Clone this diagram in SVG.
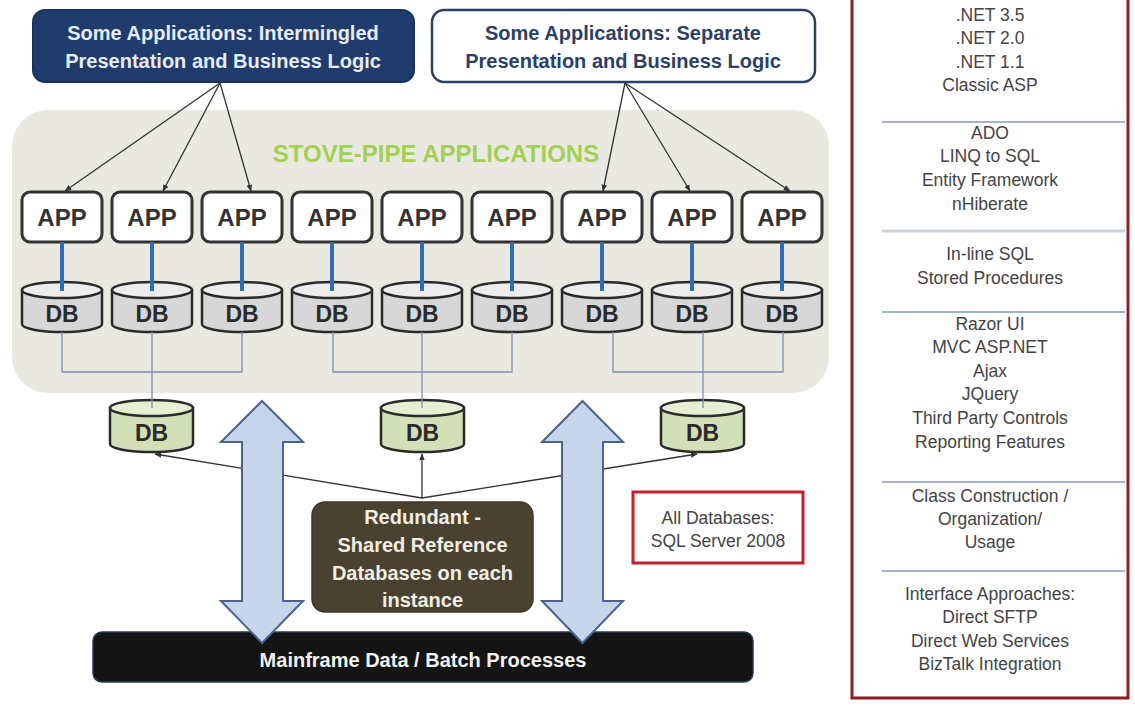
<svg xmlns="http://www.w3.org/2000/svg" xmlns:xlink="http://www.w3.org/1999/xlink" width="1135" height="708" viewBox="0 0 1135 708">
<style>
.t{font-family:"Liberation Sans",Arial,sans-serif;text-anchor:middle}
.b{font-weight:bold}
.hdrL{fill:#1f3c6d;stroke:#1a3160;stroke-width:2}
.hdrR{fill:#ffffff;stroke:#2b3f68;stroke-width:2.5}
.app{fill:#ffffff;stroke:#333333;stroke-width:3}
.appT{font-size:24px;fill:#333333}
.dbB{fill:#d7d7d7;stroke:#2a2a2a;stroke-width:2.5}
.dbTp{fill:#ececec;stroke:#2a2a2a;stroke-width:2.5}
.gdbB{fill:#d3dfb6;stroke:#2a2a2a;stroke-width:2.5}
.gdbTp{fill:#e6eed4;stroke:#2a2a2a;stroke-width:2.5}
.dbT{font-size:23px;fill:#2a2a2a}
.blue{stroke:#2e6db3;stroke-width:4;fill:none}
.thin{stroke:#7f90ad;stroke-width:1.3;fill:none}
.arr{stroke:#333333;stroke-width:1.3;fill:none;marker-end:url(#ah)}
.big{fill:#c7d5ea;stroke:#4b628e;stroke-width:2}
.panel{font-size:17.5px;fill:#444444}
.sep{stroke:#8399bf;stroke-width:1.5}
</style>
<defs>
<marker id="ah" viewBox="0 0 10 10" refX="9" refY="5" markerWidth="7" markerHeight="7" orient="auto" markerUnits="userSpaceOnUse">
<path d="M0,1 L10,5 L0,9 Z" fill="#333333"/>
</marker>
<g id="cyl">
<path class="dbB" d="M0,8 L0,42 A40,8 0 0 0 80,42 L80,8 Z"/>
<ellipse class="dbTp" cx="40" cy="8" rx="40" ry="8"/>
</g>
<g id="gcyl">
<path class="gdbB" d="M0,8 L0,44 A41.5,8 0 0 0 83,44 L83,8 Z"/>
<ellipse class="gdbTp" cx="41.5" cy="8" rx="41.5" ry="8"/>
</g>
</defs>

<rect width="1135" height="708" fill="#ffffff"/>

<!-- background region -->
<g id="stovepipe">
<rect x="12" y="110" width="817" height="283" rx="36" fill="#eae9e1"/>
<text class="t b" x="436" y="162" font-size="24" fill="#a3cf55">STOVE-PIPE APPLICATIONS</text>
</g>

<!-- header nodes -->
<g id="hdr-intermingled">
<rect class="hdrL" x="33" y="10" width="381" height="72" rx="12"/>
<text class="t b" x="223" y="40" font-size="20" fill="#e6ecf6">Some Applications: Intermingled</text>
<text class="t b" x="223" y="68" font-size="20" fill="#e6ecf6">Presentation and Business Logic</text>
</g>
<g id="hdr-separate">
<rect class="hdrR" x="432" y="10" width="383" height="72" rx="12"/>
<text class="t b" x="623" y="40" font-size="20" fill="#2b3f68">Some Applications: Separate</text>
<text class="t b" x="623" y="68" font-size="20" fill="#2b3f68">Presentation and Business Logic</text>
</g>

<!-- APP nodes -->
<g id="app1"><rect class="app" x="22" y="192" width="80" height="50" rx="8"/><text class="t b appT" x="62" y="226">APP</text></g>
<g id="app2"><rect class="app" x="112" y="192" width="80" height="50" rx="8"/><text class="t b appT" x="152" y="226">APP</text></g>
<g id="app3"><rect class="app" x="202" y="192" width="80" height="50" rx="8"/><text class="t b appT" x="242" y="226">APP</text></g>
<g id="app4"><rect class="app" x="292" y="192" width="80" height="50" rx="8"/><text class="t b appT" x="332" y="226">APP</text></g>
<g id="app5"><rect class="app" x="382" y="192" width="80" height="50" rx="8"/><text class="t b appT" x="422" y="226">APP</text></g>
<g id="app6"><rect class="app" x="472" y="192" width="80" height="50" rx="8"/><text class="t b appT" x="512" y="226">APP</text></g>
<g id="app7"><rect class="app" x="562" y="192" width="80" height="50" rx="8"/><text class="t b appT" x="602" y="226">APP</text></g>
<g id="app8"><rect class="app" x="652" y="192" width="80" height="50" rx="8"/><text class="t b appT" x="692" y="226">APP</text></g>
<g id="app9"><rect class="app" x="742" y="192" width="80" height="50" rx="8"/><text class="t b appT" x="782" y="226">APP</text></g>

<!-- DB nodes -->
<g id="db1"><use xlink:href="#cyl" x="22" y="282"/><text class="t b dbT" x="62" y="322">DB</text></g>
<g id="db2"><use xlink:href="#cyl" x="112" y="282"/><text class="t b dbT" x="152" y="322">DB</text></g>
<g id="db3"><use xlink:href="#cyl" x="202" y="282"/><text class="t b dbT" x="242" y="322">DB</text></g>
<g id="db4"><use xlink:href="#cyl" x="292" y="282"/><text class="t b dbT" x="332" y="322">DB</text></g>
<g id="db5"><use xlink:href="#cyl" x="382" y="282"/><text class="t b dbT" x="422" y="322">DB</text></g>
<g id="db6"><use xlink:href="#cyl" x="472" y="282"/><text class="t b dbT" x="512" y="322">DB</text></g>
<g id="db7"><use xlink:href="#cyl" x="562" y="282"/><text class="t b dbT" x="602" y="322">DB</text></g>
<g id="db8"><use xlink:href="#cyl" x="652" y="282"/><text class="t b dbT" x="692" y="322">DB</text></g>
<g id="db9"><use xlink:href="#cyl" x="742" y="282"/><text class="t b dbT" x="782" y="322">DB</text></g>

<!-- shared DB nodes -->
<g id="sdb1"><use xlink:href="#gcyl" x="110" y="400"/><text class="t b dbT" x="151.5" y="441">DB</text></g>
<g id="sdb2"><use xlink:href="#gcyl" x="381" y="400"/><text class="t b dbT" x="422.5" y="441">DB</text></g>
<g id="sdb3"><use xlink:href="#gcyl" x="661" y="400"/><text class="t b dbT" x="702.5" y="441">DB</text></g>

<!-- mainframe -->
<g id="mainframe">
<rect x="93" y="632" width="660" height="50" rx="9" fill="#141414" stroke="#2c3850" stroke-width="1.5"/>
<text class="t b" x="423" y="667" font-size="20" fill="#f2f2f2">Mainframe Data / Batch Processes</text>
</g>

<!-- redundant note -->
<g id="redundant">
<rect x="312" y="502" width="221" height="110" rx="13" fill="#4a4230" stroke="#3d3626" stroke-width="1.5"/>
<text class="t b" x="422.5" y="524" font-size="20" fill="#f1eee3">Redundant -</text>
<text class="t b" x="422.5" y="552" font-size="20" fill="#f1eee3">Shared Reference</text>
<text class="t b" x="422.5" y="580" font-size="20" fill="#f1eee3">Databases on each</text>
<text class="t b" x="422.5" y="607" font-size="20" fill="#f1eee3">instance</text>
</g>

<!-- all databases note -->
<g id="allDatabases">
<rect x="633" y="492" width="170" height="71" fill="#ffffff" stroke="#c3202b" stroke-width="3"/>
<text class="t" x="718" y="524" font-size="17.5" fill="#444444">All Databases:</text>
<text class="t" x="718" y="547" font-size="17.5" fill="#444444">SQL Server 2008</text>
</g>

<!-- connectors -->
<g id="connectors">
<path class="arr" d="M220,83 L65,191"/>
<path class="arr" d="M220,83 L163,191"/>
<path class="arr" d="M220,83 L251,191"/>
<path class="arr" d="M625,83 L603,191"/>
<path class="arr" d="M625,83 L690,191"/>
<path class="arr" d="M625,83 L790,191"/>

<path class="blue" d="M62,242 V291 M152,242 V291 M242,242 V291 M332,242 V291 M422,242 V291 M512,242 V291 M602,242 V291 M692,242 V291 M782,242 V291"/>

<path class="thin" d="M62,332 V372 H242 V332 M152,332 V408"/>
<path class="thin" d="M333,332 V372 H512 V332 M422,332 V408"/>
<path class="thin" d="M613,332 V372 H783 V332 M703,332 V408"/>

<path class="arr" d="M422,498 L155,454"/>
<path class="arr" d="M422,498 L422,454"/>
<path class="arr" d="M422,498 L697,454"/>

<path class="big" d="M262,401 L303,442 L283,442 L283,601 L303,601 L262,643 L221,601 L242,601 L242,442 L221,442 Z"/>
<path class="big" d="M582.5,401 L623,442 L603,442 L603,601 L623,601 L582.5,643 L542,601 L562,601 L562,442 L542,442 Z"/>
</g>

<!-- right panel -->
<g id="techPanel">
<rect x="852" y="-10" width="276" height="708" fill="#ffffff" stroke="#8e1d24" stroke-width="3"/>
<text class="t panel" x="990" y="21">.NET 3.5</text>
<text class="t panel" x="990" y="44">.NET 2.0</text>
<text class="t panel" x="990" y="68">.NET 1.1</text>
<text class="t panel" x="990" y="91">Classic ASP</text>
<line class="sep" x1="882" y1="122" x2="1125" y2="122"/>
<text class="t panel" x="990" y="139">ADO</text>
<text class="t panel" x="990" y="162">LINQ to SQL</text>
<text class="t panel" x="990" y="186">Entity Framework</text>
<text class="t panel" x="990" y="210">nHiberate</text>
<line x1="882" y1="231" x2="1125" y2="231" stroke="#c5d3e2" stroke-width="3"/>
<text class="t panel" x="990" y="260">In-line SQL</text>
<text class="t panel" x="990" y="284">Stored Procedures</text>
<line class="sep" x1="882" y1="312" x2="1125" y2="312"/>
<text class="t panel" x="990" y="330">Razor UI</text>
<text class="t panel" x="990" y="353">MVC ASP.NET</text>
<text class="t panel" x="990" y="377">Ajax</text>
<text class="t panel" x="990" y="400">JQuery</text>
<text class="t panel" x="990" y="424">Third Party Controls</text>
<text class="t panel" x="990" y="448">Reporting Features</text>
<line class="sep" x1="882" y1="482" x2="1125" y2="482"/>
<text class="t panel" x="990" y="502">Class Construction /</text>
<text class="t panel" x="990" y="525">Organization/</text>
<text class="t panel" x="990" y="548">Usage</text>
<line class="sep" x1="882" y1="571" x2="1125" y2="571"/>
<text class="t panel" x="990" y="600">Interface Approaches:</text>
<text class="t panel" x="990" y="623">Direct SFTP</text>
<text class="t panel" x="990" y="647">Direct Web Services</text>
<text class="t panel" x="990" y="670">BizTalk Integration</text>
</g>
</svg>
